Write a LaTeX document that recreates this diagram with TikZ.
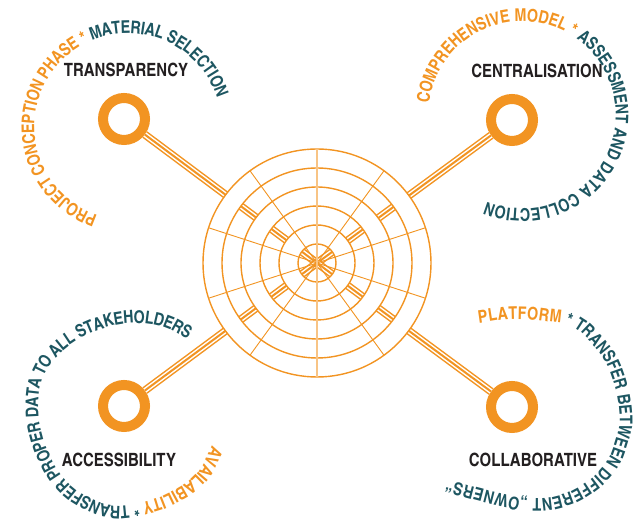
\documentclass[tikz,border=0pt]{standalone}
\usepackage{fontspec}
\newfontfamily\heroscn[Extension=.otf]{texgyreheroscn-bold}
\usetikzlibrary{decorations.text}
\definecolor{ringorange}{HTML}{F29422}
\definecolor{petrol}{HTML}{1D5661}
\definecolor{ink}{HTML}{231F20}
\newcommand\orangetext{\heroscn\fontsize{17.6}{18}\selectfont\color{ringorange}}
\newcommand\petroltext{\heroscn\fontsize{17.6}{18}\selectfont\color{petrol}}
\tikzset{
  ring/.style={circle, draw=ringorange, line width=10pt, minimum size=42pt, inner sep=0pt},
  stem/.style={draw=ringorange, line width=8pt,
    postaction={draw=white, line width=5pt},
    postaction={draw=ringorange, line width=2pt}},
  caption/.style={font=\heroscn\fontsize{18.3}{19}\selectfont, text=ink, inner sep=0pt},
  curved/.style={decorate, decoration={text along path, text align=fit to path, raise=-6.3pt, text={#1}}}
}
\begin{document}
\begin{tikzpicture}[x=1pt,y=1pt]
  \useasboundingbox (0,0) rectangle (635,524);
  \coordinate (hub) at (317,261);
  % rings
  \node[ring] (tl) at (124,405) {};
  \node[ring] (tr) at (512,404) {};
  \node[ring] (bl) at (124,118) {};
  \node[ring] (br) at (512,117) {};
  \foreach \r in {tl,tr,bl,br}
    \draw[stem] (\r) -- (hub);
  % blank bands
  \fill[white, even odd rule] (hub) circle[radius=114pt] (hub) circle[radius=95pt]
    (hub) circle[radius=76pt] (hub) circle[radius=57pt]
    (hub) circle[radius=38pt] (hub) circle[radius=19pt];
  \foreach \r in {19,38,57,76,95,114}
    \draw[ringorange, line width=1.4pt] (hub) circle[radius=\r pt];
  \foreach \a in {54,18,-18,-54}
    \draw[ringorange, line width=0.9pt] (hub) ++(\a:114pt) -- ++(\a+180:228pt);
  \draw[ringorange!55, line width=2.6pt] (hub) ++(90:114pt) -- ++(270:228pt);
  % captions
  \node[caption] (transparency) at (126,454) {TRANSPARENCY};
  \node[caption] (centralisation) at (537,453) {CENTRALISATION};
  \node[caption] (accessibility) at (119,64) {ACCESSIBILITY};
  \node[caption] (collaborative) at (533,64) {COLLABORATIVE};
  % texts along the rings
  \path[curved={|\orangetext|PROJECT CONCEPTION PHASE * |\petroltext|MATERIAL SELECTION}]
    (128,397) ++(251:100pt) arc[start angle=251, end angle=18, radius=100pt];
  \path[curved={|\orangetext|COMPREHENSIVE MODEL * |\petroltext|ASSESSMENT AND DATA COLLECTION}]
    (522,409) ++(173:100pt) arc[start angle=173, end angle=-112, radius=100pt];
  \path[curved={|\orangetext|AVAILABILITY |\petroltext|* TRANSFER PROPER DATA TO ALL STAKEHOLDERS}]
    (218,76) to[out=-119,in=48.7] (202,47) to[out=-131.3,in=28.5] (175,27)
    to[out=-151.5,in=13.4] (145,16) to[out=-166.6,in=-4.8] (112,12)
    to[out=175.2,in=-27.5] (85,21) to[out=152.5,in=-46.4] (62,38)
    to[out=133.6,in=-63.4] (46,62) to[out=116.6,in=-76.7] (35,92)
    to[out=103.3,in=268] (32,121) to[out=88,in=248.2] (37,148)
    to[out=68.2,in=228] (52,171) to[out=48,in=212] (74,189)
    to[out=32,in=197.2] (100,201) to[out=17.2,in=182.8] (132,207)
    to[out=2.8,in=165.7] (162,204) to[out=-14.3,in=153] (191,190);
  \path[curved={|\orangetext|PLATFORM |\petroltext|* TRANSFER BETWEEN DIFFERENT „OWNERS“}]
    (478,207) to[out=7,in=182] (510,211) to[out=2,in=172] (545,209)
    to[out=-8,in=152] (576,202) to[out=-28,in=130] (600,180)
    to[out=-50,in=110] (616,154) to[out=-70,in=94] (626,108)
    to[out=-86,in=73] (621,80) to[out=-107,in=54] (610,56)
    to[out=-126,in=34] (588,35) to[out=-146,in=15.4] (560,22)
    to[out=-164.6,in=-2] (530,19) to[out=178,in=-12] (500,24)
    to[out=168,in=-14.5] (472,31) to[out=165.5,in=-15] (446,38);
\end{tikzpicture}
\end{document}
